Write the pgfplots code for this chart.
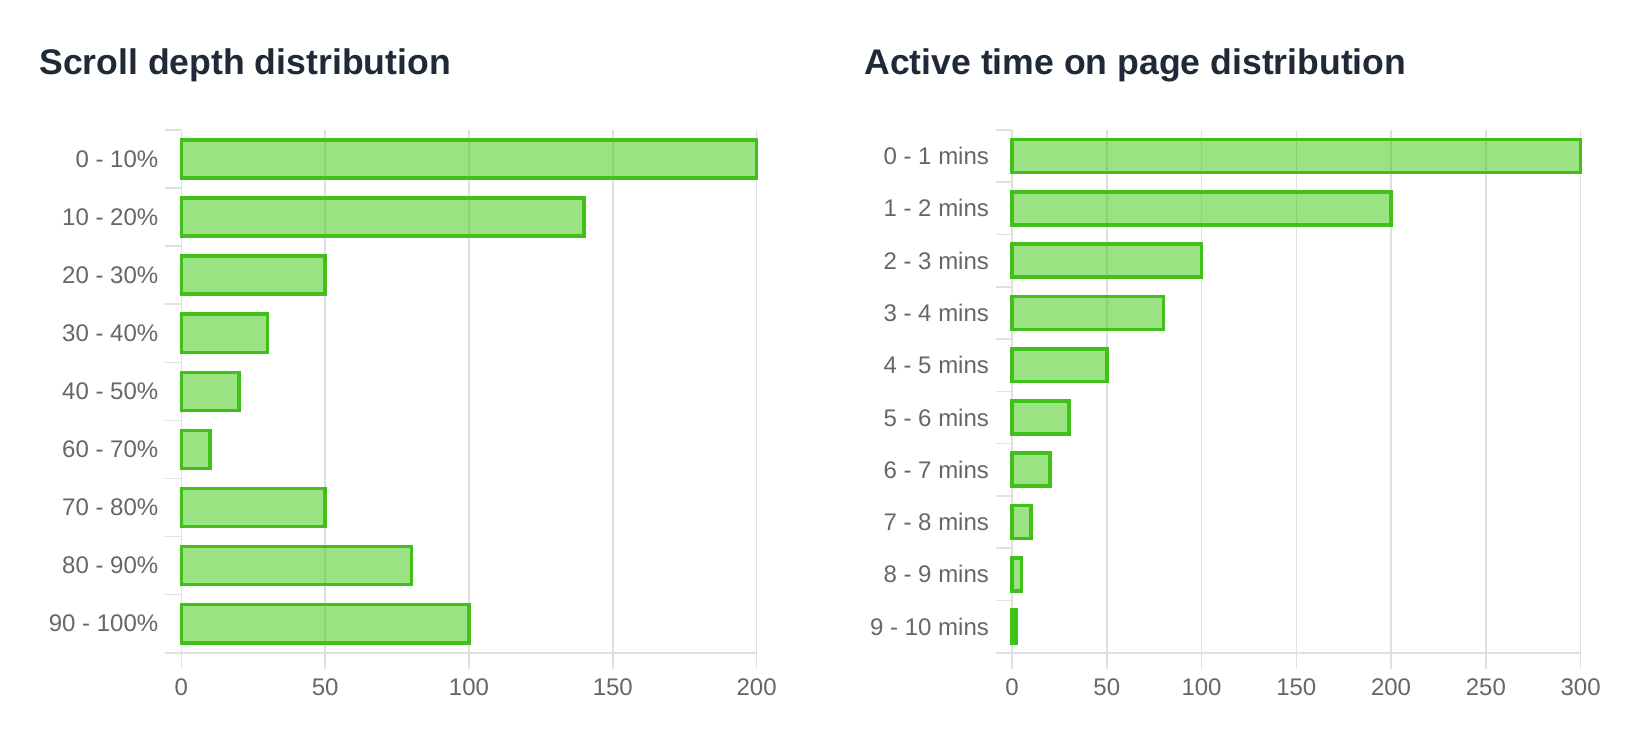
\documentclass[border=0pt]{standalone}
\usepackage{pgfplots}
\pgfplotsset{compat=1.18}
\usepackage{fontspec}
\setmainfont{Liberation Sans}
\definecolor{barfill}{RGB}{55,200,5}
\definecolor{barline}{RGB}{66,192,26}
\definecolor{ticktext}{RGB}{102,102,102}
\definecolor{titletext}{RGB}{31,41,55}
\definecolor{gridc}{RGB}{224,224,224}
\pgfplotsset{mystyle/.style={
  scale only axis,
  axis x line*=bottom, axis y line*=left,
  axis line style={draw=gridc, line width=0.8pt, -},
  xmajorgrids, grid style={draw=gridc, line width=0.8pt},
  tick style={draw=gridc, line width=0.8pt},
  tick align=outside, major tick length=8pt,
  y dir=reverse,
  xmin=0,
  clip=false,
  tick label style={font=\fontsize{12}{14}\selectfont, text=ticktext},
  xticklabel style={yshift=-1.5pt},
  /pgf/number format/assume math mode=true,
  height=261.35pt,
}}
\begin{document}
\begin{tikzpicture}
\path[use as bounding box] (0,0) rectangle (817pt,-366pt);
\node[anchor=base west, font=\fontsize{17.8}{22}\selectfont\bfseries, text=titletext, inner sep=0pt] at (19.5pt,-37.5pt) {Scroll depth distribution};
\node[anchor=base west, font=\fontsize{17.8}{22}\selectfont\bfseries, text=titletext, inner sep=0pt] at (432pt,-37.5pt) {Active time on page distribution};
\begin{axis}[mystyle,
  at={(90.65pt,-326.35pt)}, anchor=south west,
  width=287.65pt,
  xmax=200, xtick={0,50,100,150,200},
  ymin=-0.5, ymax=8.5,
  ytick={-0.5,0.5,...,8.5},
  yticklabels={0 - 10\%,10 - 20\%,20 - 30\%,30 - 40\%,40 - 50\%,60 - 70\%,70 - 80\%,80 - 90\%,90 - 100\%,{}},
  yticklabel style={yshift=-14.52pt},
]
\addplot[xbar, bar width=0.656, fill=barfill, fill opacity=0.5, draw=barline, line width=1.8pt]
coordinates {(200,0) (140,1) (50,2) (30,3) (20,4) (10,5) (50,6) (80,7) (100,8)};
\end{axis}
\begin{axis}[mystyle,
  at={(506pt,-326.35pt)}, anchor=south west,
  width=284.3pt,
  xmax=300, xtick={0,50,100,150,200,250,300},
  ymin=-0.5, ymax=9.5,
  ytick={-0.5,0.5,...,9.5},
  yticklabels={0 - 1 mins,1 - 2 mins,2 - 3 mins,3 - 4 mins,4 - 5 mins,5 - 6 mins,6 - 7 mins,7 - 8 mins,8 - 9 mins,9 - 10 mins,{}},
  yticklabel style={yshift=-13.07pt},
]
\addplot[xbar, bar width=0.63, fill=barfill, fill opacity=0.5, draw=barline, line width=1.8pt]
coordinates {(300,0) (200,1) (100,2) (80,3) (50,4) (30,5) (20,6) (10,7) (5,8) (2,9)};
\end{axis}
\end{tikzpicture}
\end{document}
